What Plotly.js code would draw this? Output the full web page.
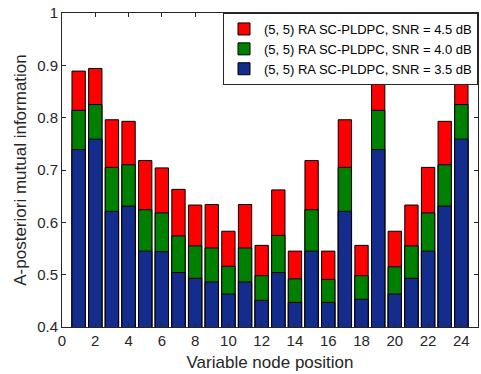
<!DOCTYPE html>
<html>
<head>
<meta charset="utf-8">
<script src="https://cdn.plot.ly/plotly-3.0.1.min.js"></script>
<style>html,body{margin:0;padding:0;background:#fff;}#chart{width:481px;height:374px;}</style>
</head>
<body>
<div id="chart"></div>
<script>
const positions = [1,2,3,4,5,6,7,8,9,10,11,12,13,14,15,16,17,18,19,20,21,22,23,24];
const snr45 = [0.889,0.894,0.796,0.793,0.718,0.704,0.663,0.633,0.634,0.583,0.634,0.556,0.662,0.545,0.718,0.545,0.796,0.556,0.889,0.583,0.633,0.705,0.793,0.894];
const snr40 = [0.814,0.825,0.705,0.710,0.624,0.618,0.574,0.555,0.551,0.516,0.551,0.498,0.575,0.492,0.624,0.491,0.705,0.498,0.814,0.515,0.555,0.618,0.710,0.825];
const snr35 = [0.739,0.759,0.621,0.631,0.545,0.544,0.504,0.493,0.486,0.463,0.486,0.451,0.504,0.447,0.545,0.447,0.621,0.453,0.739,0.463,0.493,0.545,0.631,0.759];
const names = ['(5, 5) RA SC-PLDPC, SNR = 4.5 dB','(5, 5) RA SC-PLDPC, SNR = 4.0 dB','(5, 5) RA SC-PLDPC, SNR = 3.5 dB'];
const colors = ['#FF0000','#008000','#142C8C'];
const series = [snr45, snr40, snr35];
const xTicks = [0,2,4,6,8,10,12,14,16,18,20,22,24];
const yTicks = [0.4,0.5,0.6,0.7,0.8,0.9,1];
const yTickText = ['0.4','0.5','0.6','0.7','0.8','0.9','1'];

const traces = series.map((s,i)=>({
  type:'bar', x:positions, y:s, name:names[i], width:0.8,
  marker:{color:colors[i], line:{color:'#000', width:1}}
}));

const fontFam = '"Liberation Sans", Arial, sans-serif';
const layout = {
  width:481, height:374,
  margin:{l:62, r:3, t:13, b:47},
  barmode:'overlay',
  paper_bgcolor:'#fff', plot_bgcolor:'#fff',
  font:{family:fontFam, size:15, color:'#262626'},
  showlegend:true,
  legend:{x:1, xanchor:'right', y:1, yanchor:'top', bgcolor:'#fff', bordercolor:'#262626', borderwidth:1,
    font:{family:fontFam, size:13, color:'#000'}, tracegroupgap:0, itemwidth:30},
  xaxis:{range:[0,25], tickvals:xTicks, ticks:'inside', ticklen:4, tickcolor:'#262626', showline:true, linecolor:'#262626', linewidth:1, mirror:'ticks', showgrid:false, zeroline:false,
    title:{text:'Variable node position', font:{family:fontFam, size:17, color:'#262626'}, standoff:8}, tickfont:{size:15}},
  yaxis:{range:[0.4,1], tickvals:yTicks, ticktext:yTickText, ticks:'inside', ticklen:4, tickcolor:'#262626', showline:true, linecolor:'#262626', linewidth:1, mirror:'ticks', showgrid:false, zeroline:false,
    title:{text:'A-posteriori mutual information', font:{family:fontFam, size:17, color:'#262626'}, standoff:6}, tickfont:{size:15}}
};
Plotly.newPlot('chart', traces, layout, {staticPlot:true, displayModeBar:false});
</script>
</body>
</html>
